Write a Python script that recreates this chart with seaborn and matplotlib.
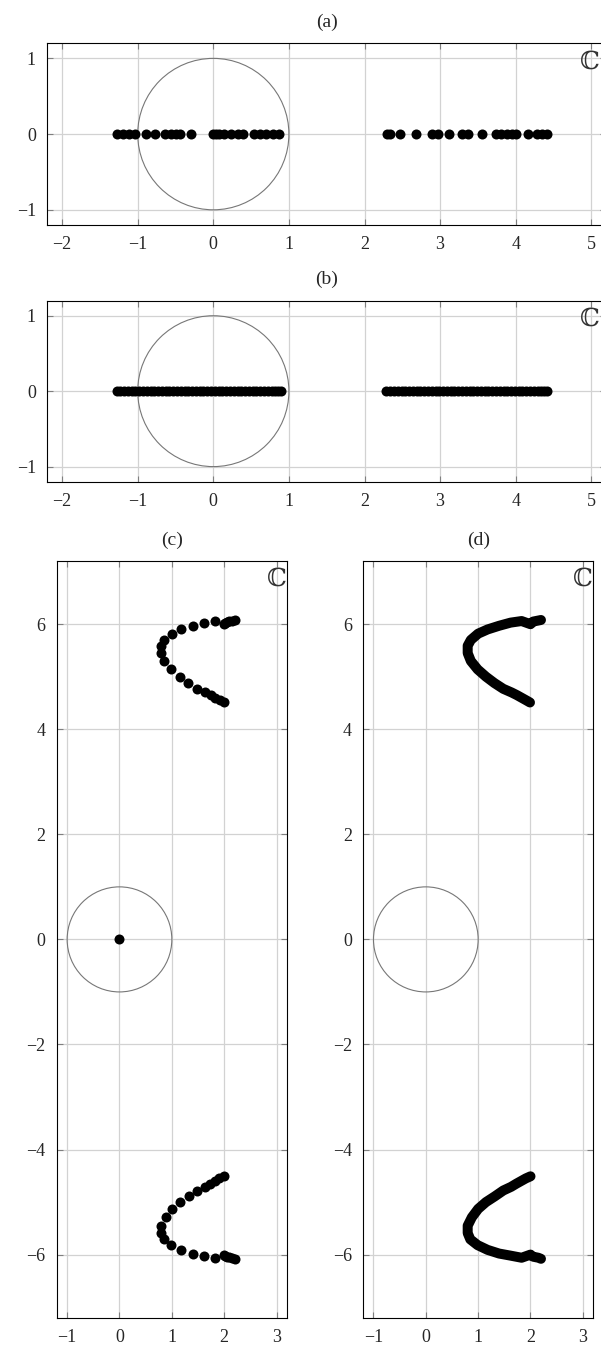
import matplotlib
matplotlib.use("Agg")
import matplotlib.pyplot as plt
from matplotlib.patches import Circle
import seaborn as sns

# (a) eigenvalues on the real axis
a_x = [-1.27, -1.20, -1.12, -1.04, -0.895, -0.767, -0.635, -0.564, -0.498, -0.437, -0.295,
       0.0, 0.03, 0.07, 0.141, 0.229, 0.326, 0.392, 0.538, 0.617, 0.692, 0.785, 0.873,
       2.30, 2.34, 2.469, 2.68, 2.895, 2.978, 3.113, 3.285, 3.364, 3.557,
       3.741, 3.811, 3.882, 3.952, 4.009, 4.158, 4.276, 4.35, 4.41]
a_y = [0.0] * len(a_x)

# (b) dense eigenvalues on the real axis
b_x = [-1.28, -1.23, -1.18, -1.13, -1.08, -1.03, -0.98, -0.93, -0.88, -0.83, -0.78,
       -0.73, -0.68, -0.63, -0.58, -0.53, -0.48, -0.43, -0.38, -0.33, -0.28, -0.23,
       -0.18, -0.13, -0.08, -0.03, 0.02, 0.07, 0.12, 0.17, 0.22, 0.27, 0.32, 0.37,
       0.42, 0.47, 0.52, 0.57, 0.62, 0.67, 0.72, 0.77, 0.82, 0.86, 0.89,
       2.29, 2.34, 2.39, 2.44, 2.49, 2.54, 2.59, 2.64, 2.69, 2.74, 2.79, 2.84, 2.89,
       2.94, 2.99, 3.04, 3.09, 3.14, 3.19, 3.24, 3.29, 3.34, 3.39, 3.44, 3.49, 3.54,
       3.59, 3.64, 3.69, 3.74, 3.79, 3.84, 3.89, 3.94, 3.99, 4.04, 4.09, 4.14, 4.19,
       4.24, 4.29, 4.34, 4.38, 4.41]
b_y = [0.0] * len(b_x)

# (c) complex eigenvalues, upper branch (from lower tip to top cluster)
c_up_x = [1.99, 1.92, 1.83, 1.74, 1.64, 1.48, 1.31, 1.15, 0.99, 0.86, 0.80, 0.80,
          0.86, 1.00, 1.18, 1.40, 1.62, 1.83, 2.00, 2.02, 2.05, 2.10, 2.15, 2.20]
c_up_y = [4.51, 4.55, 4.60, 4.65, 4.70, 4.77, 4.88, 5.00, 5.14, 5.30, 5.45, 5.59,
          5.70, 5.82, 5.90, 5.97, 6.03, 6.06, 6.00, 6.02, 6.05, 6.06, 6.07, 6.08]
# lower branch
c_lo_x = [2.00, 1.91, 1.82, 1.73, 1.63, 1.48, 1.32, 1.15, 1.00, 0.88, 0.80, 0.80,
          0.85, 0.99, 1.18, 1.40, 1.62, 1.83, 2.00, 2.02, 2.05, 2.10, 2.15, 2.20]
c_lo_y = [-4.51, -4.55, -4.60, -4.65, -4.71, -4.78, -4.89, -5.00, -5.13, -5.29, -5.45, -5.59,
          -5.71, -5.82, -5.91, -5.98, -6.02, -6.06, -6.00, -6.02, -6.04, -6.05, -6.06, -6.08]
# eigenvalue at the origin
c0_x = [0.0]
c0_y = [0.0]

sns.set_theme(style="white")
plt.rcParams['font.family'] = ['Liberation Serif', 'DejaVu Serif']

fig = plt.figure(figsize=(6.01, 13.47), dpi=100)

ax_a = fig.add_axes([0.0782, 0.8330, 0.9308, 0.1349])
ax_b = fig.add_axes([0.0782, 0.6424, 0.9308, 0.1344])
ax_c = fig.add_axes([0.0943, 0.0218, 0.3832, 0.5616])
ax_d = fig.add_axes([0.6040, 0.0218, 0.3832, 0.5616])

MS = 52


def style(ax, title, xt, yt, xl, yl, cdx):
    ax.set_xlim(*xl)
    ax.set_ylim(*yl)
    ax.set_xticks(xt)
    ax.set_yticks(yt)
    ax.set_axisbelow(True)
    ax.grid(True, color='#d2d2d2', lw=0.9)
    for s in ax.spines.values():
        s.set_color('black')
        s.set_linewidth(0.8)
    ax.tick_params(direction='in', length=4, width=0.8, color='#7f7f7f',
                   top=True, right=True, labelsize=13, pad=8,
                   bottom=True, left=True)
    ax.set_title(title, fontsize=14, pad=12)
    ax.set_xlabel('')
    ax.set_ylabel('')
    ax.add_patch(Circle((0, 0), 1, fill=False, ec='#777777', lw=0.8, zorder=2))
    ax.annotate('\u2102', xy=(1, 1), xycoords='axes fraction',
                xytext=(cdx, -5), textcoords='offset points',
                ha='right', va='top', fontsize=18, color='#333333',
                family=['DejaVu Serif', 'DejaVu Sans'])


for ax, xs, ys, t in [(ax_a, a_x, a_y, '(a)'), (ax_b, b_x, b_y, '(b)')]:
    sns.scatterplot(x=xs, y=ys, ax=ax, color='black', s=MS, linewidth=0, zorder=3)
    style(ax, t, range(-2, 6), [-1, 0, 1], (-2.2, 5.2), (-1.2, 1.2), -5)

sns.scatterplot(x=c_up_x + c_lo_x + c0_x, y=c_up_y + c_lo_y + c0_y, ax=ax_c,
                color='black', s=MS, linewidth=0, zorder=3)
style(ax_c, '(c)', range(-1, 4), range(-6, 7, 2), (-1.2, 3.2), (-7.2, 7.2), 0)

# (d) dense branches drawn as a continuous thick trace
for xs, ys in [(c_up_x, c_up_y), (c_lo_x, c_lo_y)]:
    sns.lineplot(x=xs, y=ys, ax=ax_d, sort=False, estimator=None, color='black',
                 lw=7.2, solid_capstyle='round', solid_joinstyle='round', zorder=3)
style(ax_d, '(d)', range(-1, 4), range(-6, 7, 2), (-1.2, 3.2), (-7.2, 7.2), 0)

fig.savefig('out.png', dpi=100)
